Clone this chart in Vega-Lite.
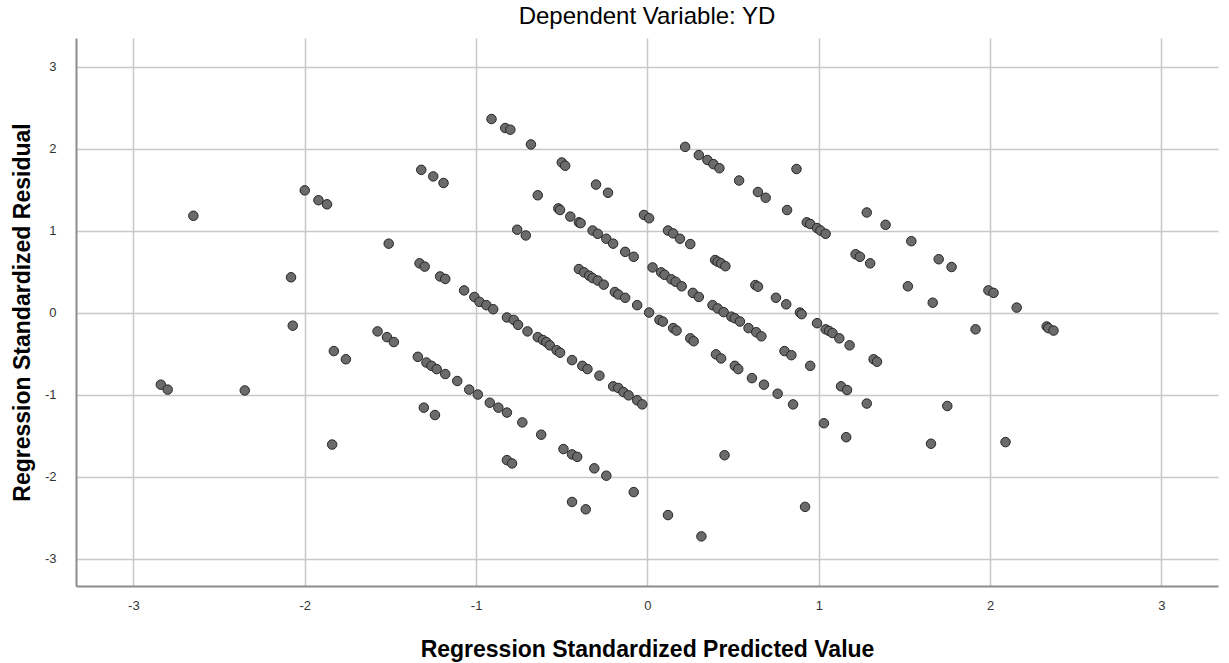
{
  "$schema": "https://vega.github.io/schema/vega-lite/v6.json",
  "width": 1142,
  "height": 548,
  "autosize": {"type": "none"},
  "padding": {"left": 76, "top": 38, "right": 11, "bottom": 77},
  "background": "white",
  "title": {
    "text": "Dependent Variable: YD",
    "font": "Liberation Sans",
    "fontSize": 24,
    "fontWeight": "normal",
    "color": "#000000",
    "anchor": "middle",
    "offset": 9
  },
  "config": {
    "view": {"stroke": null},
    "axis": {
      "domainColor": "#8c8c8c",
      "domainWidth": 2,
      "gridColor": "#c8c8c8",
      "gridWidth": 1.5,
      "ticks": false,
      "labelFont": "Liberation Sans",
      "labelFontSize": 13,
      "labelColor": "#333333",
      "titleFont": "Liberation Sans",
      "titleFontSize": 23,
      "titleFontWeight": "bold",
      "titleColor": "#000000"
    }
  },
  "data": {
    "values": [
      {"predicted": -2.65, "residual": 1.18},
      {"predicted": -2.00, "residual": 1.49},
      {"predicted": -1.92, "residual": 1.37},
      {"predicted": -1.87, "residual": 1.32},
      {"predicted": -2.08, "residual": 0.43},
      {"predicted": -2.07, "residual": -0.16},
      {"predicted": -1.83, "residual": -0.47},
      {"predicted": -1.76, "residual": -0.57},
      {"predicted": -2.84, "residual": -0.88},
      {"predicted": -2.80, "residual": -0.94},
      {"predicted": -2.35, "residual": -0.95},
      {"predicted": -1.84, "residual": -1.61},
      {"predicted": -1.51, "residual": 0.84},
      {"predicted": -1.32, "residual": 1.74},
      {"predicted": -1.25, "residual": 1.66},
      {"predicted": -1.19, "residual": 1.58},
      {"predicted": -0.91, "residual": 2.36},
      {"predicted": -0.83, "residual": 2.25},
      {"predicted": -0.80, "residual": 2.23},
      {"predicted": -0.68, "residual": 2.05},
      {"predicted": -0.50, "residual": 1.83},
      {"predicted": -0.48, "residual": 1.79},
      {"predicted": -0.30, "residual": 1.56},
      {"predicted": -0.23, "residual": 1.46},
      {"predicted": -0.02, "residual": 1.19},
      {"predicted": 0.01, "residual": 1.15},
      {"predicted": -0.64, "residual": 1.43},
      {"predicted": -0.52, "residual": 1.27},
      {"predicted": -0.51, "residual": 1.25},
      {"predicted": -0.45, "residual": 1.17},
      {"predicted": -0.40, "residual": 1.10},
      {"predicted": -0.39, "residual": 1.09},
      {"predicted": -0.32, "residual": 1.00},
      {"predicted": -0.29, "residual": 0.96},
      {"predicted": -0.24, "residual": 0.90},
      {"predicted": -0.20, "residual": 0.84},
      {"predicted": -0.13, "residual": 0.74},
      {"predicted": -0.08, "residual": 0.68},
      {"predicted": 0.03, "residual": 0.55},
      {"predicted": 0.08, "residual": 0.49},
      {"predicted": 0.10, "residual": 0.46},
      {"predicted": -0.76, "residual": 1.01},
      {"predicted": -0.71, "residual": 0.94},
      {"predicted": -1.33, "residual": 0.60},
      {"predicted": -1.30, "residual": 0.56},
      {"predicted": -1.21, "residual": 0.44},
      {"predicted": -1.18, "residual": 0.41},
      {"predicted": -1.07, "residual": 0.27},
      {"predicted": -1.01, "residual": 0.19},
      {"predicted": -0.98, "residual": 0.13},
      {"predicted": -0.94, "residual": 0.09},
      {"predicted": -0.90, "residual": 0.04},
      {"predicted": -0.82, "residual": -0.06},
      {"predicted": -0.78, "residual": -0.09},
      {"predicted": -0.755, "residual": -0.15},
      {"predicted": -0.70, "residual": -0.23},
      {"predicted": -0.64, "residual": -0.30},
      {"predicted": -0.61, "residual": -0.335},
      {"predicted": -0.59, "residual": -0.36},
      {"predicted": -0.57, "residual": -0.40},
      {"predicted": -0.53, "residual": -0.46},
      {"predicted": -0.51, "residual": -0.49},
      {"predicted": -0.44, "residual": -0.58},
      {"predicted": -0.38, "residual": -0.65},
      {"predicted": -0.35, "residual": -0.69},
      {"predicted": -0.28, "residual": -0.77},
      {"predicted": -0.20, "residual": -0.90},
      {"predicted": -0.17, "residual": -0.92},
      {"predicted": -0.14, "residual": -0.97},
      {"predicted": -0.11, "residual": -1.01},
      {"predicted": -0.06, "residual": -1.07},
      {"predicted": -0.03, "residual": -1.12},
      {"predicted": -0.40, "residual": 0.53},
      {"predicted": -0.37, "residual": 0.49},
      {"predicted": -0.34, "residual": 0.45},
      {"predicted": -0.32, "residual": 0.42},
      {"predicted": -0.29, "residual": 0.39},
      {"predicted": -0.255, "residual": 0.34},
      {"predicted": -0.19, "residual": 0.25},
      {"predicted": -0.17, "residual": 0.22},
      {"predicted": -0.13, "residual": 0.18},
      {"predicted": -0.06, "residual": 0.09},
      {"predicted": 0.01, "residual": 0.00},
      {"predicted": 0.07, "residual": -0.09},
      {"predicted": 0.09, "residual": -0.11},
      {"predicted": 0.15, "residual": -0.19},
      {"predicted": 0.17, "residual": -0.22},
      {"predicted": 0.25, "residual": -0.315},
      {"predicted": 0.27, "residual": -0.35},
      {"predicted": 0.40, "residual": -0.51},
      {"predicted": 0.43, "residual": -0.56},
      {"predicted": 0.51, "residual": -0.65},
      {"predicted": 0.53, "residual": -0.69},
      {"predicted": 0.61, "residual": -0.80},
      {"predicted": 0.68, "residual": -0.88},
      {"predicted": 0.76, "residual": -0.99},
      {"predicted": 0.85, "residual": -1.12},
      {"predicted": 0.22, "residual": 2.02},
      {"predicted": 0.30, "residual": 1.92},
      {"predicted": 0.35, "residual": 1.86},
      {"predicted": 0.385, "residual": 1.81},
      {"predicted": 0.42, "residual": 1.76},
      {"predicted": 0.535, "residual": 1.61},
      {"predicted": 0.645, "residual": 1.47},
      {"predicted": 0.69, "residual": 1.40},
      {"predicted": 0.815, "residual": 1.25},
      {"predicted": 0.87, "residual": 1.75},
      {"predicted": 0.93, "residual": 1.10},
      {"predicted": 0.95, "residual": 1.08},
      {"predicted": 0.99, "residual": 1.03},
      {"predicted": 1.01, "residual": 1.00},
      {"predicted": 1.04, "residual": 0.96},
      {"predicted": 1.28, "residual": 1.22},
      {"predicted": 1.39, "residual": 1.07},
      {"predicted": 1.54, "residual": 0.87},
      {"predicted": 1.70, "residual": 0.65},
      {"predicted": 1.775, "residual": 0.555},
      {"predicted": 1.215, "residual": 0.71},
      {"predicted": 1.24, "residual": 0.68},
      {"predicted": 1.30, "residual": 0.60},
      {"predicted": 1.52, "residual": 0.32},
      {"predicted": 1.665, "residual": 0.12},
      {"predicted": 1.99, "residual": 0.27},
      {"predicted": 2.02, "residual": 0.24},
      {"predicted": 2.155, "residual": 0.06},
      {"predicted": 1.915, "residual": -0.205},
      {"predicted": 2.33, "residual": -0.17},
      {"predicted": 2.34, "residual": -0.19},
      {"predicted": 2.37, "residual": -0.22},
      {"predicted": 1.75, "residual": -1.14},
      {"predicted": 2.09, "residual": -1.58},
      {"predicted": 0.12, "residual": 1.00},
      {"predicted": 0.15, "residual": 0.965},
      {"predicted": 0.19, "residual": 0.90},
      {"predicted": 0.25, "residual": 0.835},
      {"predicted": 0.395, "residual": 0.64},
      {"predicted": 0.41, "residual": 0.62},
      {"predicted": 0.43, "residual": 0.60},
      {"predicted": 0.455, "residual": 0.565},
      {"predicted": 0.63, "residual": 0.335},
      {"predicted": 0.645, "residual": 0.315},
      {"predicted": 0.75, "residual": 0.18},
      {"predicted": 0.81, "residual": 0.10},
      {"predicted": 0.89, "residual": 0.00},
      {"predicted": 0.90, "residual": -0.02},
      {"predicted": 0.99, "residual": -0.13},
      {"predicted": 1.04, "residual": -0.205},
      {"predicted": 1.06, "residual": -0.225},
      {"predicted": 1.08, "residual": -0.25},
      {"predicted": 1.12, "residual": -0.315},
      {"predicted": 1.18, "residual": -0.40},
      {"predicted": 1.32, "residual": -0.57},
      {"predicted": 1.34, "residual": -0.60},
      {"predicted": 0.14, "residual": 0.405},
      {"predicted": 0.165, "residual": 0.375},
      {"predicted": 0.20, "residual": 0.32},
      {"predicted": 0.265, "residual": 0.24},
      {"predicted": 0.30, "residual": 0.19},
      {"predicted": 0.38, "residual": 0.09},
      {"predicted": 0.41, "residual": 0.05},
      {"predicted": 0.445, "residual": 0.005},
      {"predicted": 0.49, "residual": -0.05},
      {"predicted": 0.51, "residual": -0.07},
      {"predicted": 0.54, "residual": -0.11},
      {"predicted": 0.59, "residual": -0.19},
      {"predicted": 0.635, "residual": -0.24},
      {"predicted": 0.665, "residual": -0.29},
      {"predicted": 0.80, "residual": -0.47},
      {"predicted": 0.84, "residual": -0.52},
      {"predicted": 0.95, "residual": -0.65},
      {"predicted": 1.13, "residual": -0.90},
      {"predicted": 1.165, "residual": -0.945},
      {"predicted": 1.28, "residual": -1.11},
      {"predicted": 1.03, "residual": -1.35},
      {"predicted": 1.16, "residual": -1.52},
      {"predicted": 1.655, "residual": -1.60},
      {"predicted": 0.45, "residual": -1.74},
      {"predicted": 0.92, "residual": -2.37},
      {"predicted": 0.12, "residual": -2.47},
      {"predicted": 0.315, "residual": -2.73},
      {"predicted": -1.575, "residual": -0.23},
      {"predicted": -1.52, "residual": -0.30},
      {"predicted": -1.48, "residual": -0.36},
      {"predicted": -1.34, "residual": -0.54},
      {"predicted": -1.29, "residual": -0.61},
      {"predicted": -1.26, "residual": -0.65},
      {"predicted": -1.23, "residual": -0.69},
      {"predicted": -1.18, "residual": -0.75},
      {"predicted": -1.11, "residual": -0.835},
      {"predicted": -1.04, "residual": -0.94},
      {"predicted": -0.99, "residual": -1.00},
      {"predicted": -0.92, "residual": -1.10},
      {"predicted": -0.87, "residual": -1.16},
      {"predicted": -0.82, "residual": -1.22},
      {"predicted": -0.73, "residual": -1.34},
      {"predicted": -0.62, "residual": -1.49},
      {"predicted": -0.49, "residual": -1.665},
      {"predicted": -0.44, "residual": -1.73},
      {"predicted": -0.41, "residual": -1.76},
      {"predicted": -0.31, "residual": -1.90},
      {"predicted": -0.24, "residual": -1.99},
      {"predicted": -0.08, "residual": -2.19},
      {"predicted": -0.44, "residual": -2.31},
      {"predicted": -0.36, "residual": -2.40},
      {"predicted": -1.305, "residual": -1.16},
      {"predicted": -1.24, "residual": -1.25},
      {"predicted": -0.82, "residual": -1.80},
      {"predicted": -0.79, "residual": -1.84}
    ]
  },
  "mark": {
    "type": "circle",
    "size": 90,
    "fill": "#6b6b6b",
    "stroke": "#262626",
    "strokeWidth": 1,
    "opacity": 1
  },
  "encoding": {
    "x": {
      "field": "predicted",
      "type": "quantitative",
      "scale": {"domain": [-3.335, 3.33], "nice": false, "zero": false},
      "axis": {
        "title": "Regression Standardized Predicted Value",
        "values": [-3, -2, -1, 0, 1, 2, 3],
        "labelExpr": "'' + datum.value",
        "labelPadding": 13,
        "titleX": 571,
        "titleY": 63,
        "titleAlign": "center",
        "titleBaseline": "middle"
      }
    },
    "y": {
      "field": "residual",
      "type": "quantitative",
      "scale": {"domain": [-3.335, 3.348], "nice": false, "zero": false},
      "axis": {
        "title": "Regression Standardized Residual",
        "values": [-3, -2, -1, 0, 1, 2, 3],
        "labelExpr": "'' + datum.value",
        "labelPadding": 20,
        "titleX": -54,
        "titleY": 274,
        "titleAngle": -90,
        "titleAlign": "center",
        "titleBaseline": "middle"
      }
    }
  }
}
